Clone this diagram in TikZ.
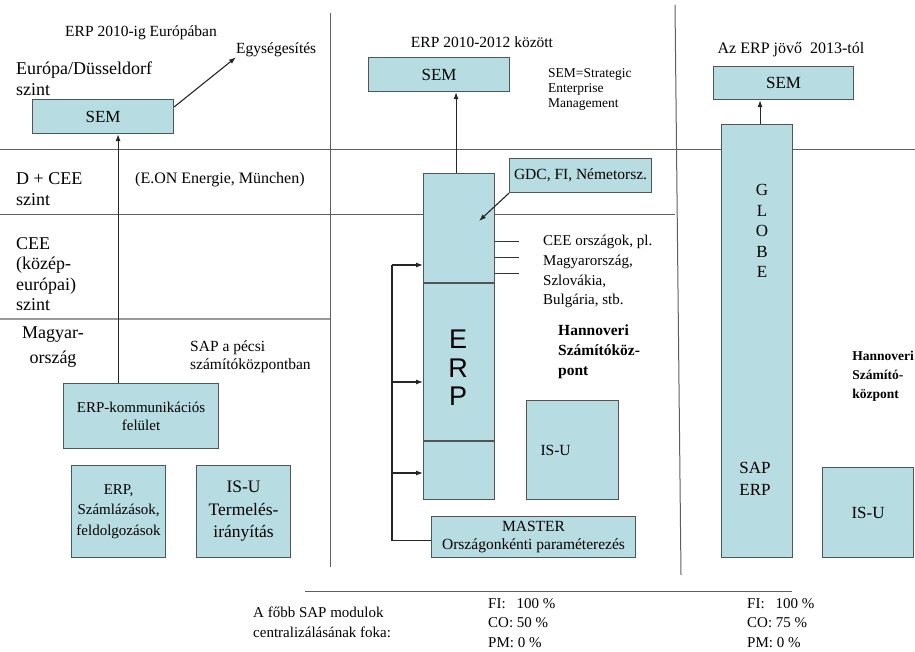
\documentclass[tikz,border=0pt]{standalone}
\usepackage{fontspec}
\setmainfont{Liberation Serif}
\newfontfamily\arialfont{Liberation Sans}
\usetikzlibrary{positioning,arrows.meta}
\definecolor{boxfill}{RGB}{183,221,227}
\definecolor{boxline}{RGB}{80,86,88}
\definecolor{rulegray}{RGB}{95,95,95}

\begin{document}
\begin{tikzpicture}[x=1pt, y=-1pt, >={Latex[length=7pt,width=5pt]},
    box/.style={draw=boxline, fill=boxfill, line width=1.1pt, inner sep=0pt, anchor=north west, align=center},
    level text/.style={font=\fontsize{18}{21}\selectfont, align=left, inner sep=0pt, anchor=north west},
    plain text/.style={font=\fontsize{15.5}{18}\selectfont, inner sep=0pt},
    small text/.style={font=\fontsize{13.5}{15}\selectfont, align=left, inner sep=0pt, anchor=north west},
    bold text/.style={font=\bfseries\fontsize{15.5}{20}\selectfont, align=left, inner sep=0pt},
    sep line/.style={draw=rulegray, line width=1pt},
    arr/.style={->, line width=1.1pt, draw=black!85}]

  \useasboundingbox (0,0) rectangle (915,652);

  % separators
  \draw[sep line] (0,150) -- (915,150);
  \draw[sep line] (0,215) -- (675,215);
  \draw[draw=gray!80, line width=2.5pt] (0,319) -- (330,319);
  \draw[sep line] (330,13) -- (330,567);
  \draw[sep line] (675,5) -- (681,575);
  \draw[sep line] (305,591) -- (792,591);

  % ---- ERP 2010-ig ----
  \node[plain text] (title eu) at (141,33) {ERP 2010-ig Európában};
  \node[plain text, anchor=west] (unify) at (236,50) {Egységesítés};
  \node[level text] (eu level) at (16,62) {Európa/Düsseldorf\\szint};
  \node[box, minimum width=141, minimum height=34, font=\fontsize{17}{20}\selectfont] (sem eu) at (32,99) {SEM};
  \node[level text] (dcee level) at (16,172) {D + CEE\\szint};
  \node[plain text, anchor=west, font=\fontsize{16}{19}\selectfont] (eon) at (135,180) {(E.ON Energie, München)};
  \node[level text, font=\fontsize{18}{20.5}\selectfont] (cee level) at (16,237) {CEE\\(közép-\\európai)\\szint};
  \node[level text, align=center, anchor=north, font=\fontsize{18}{25}\selectfont] (hu level) at (53,327) {Magyar-\\ország};
  \node[plain text, align=left, anchor=north west] (pecs) at (190,341) {SAP a pécsi\\számítóközpontban};
  \node[box, minimum width=155, minimum height=65, font=\fontsize{15}{18}\selectfont] (erp comm) at (63,383) {ERP-kommunikációs\\felület};
  \node[box, minimum width=94, minimum height=92, font=\fontsize{15}{20.5}\selectfont] (billing) at (71,465) {ERP,\\Számlázások,\\feldolgozások};
  \node[box, minimum width=94, minimum height=92, font=\fontsize{17.5}{22.5}\selectfont] (isu eu) at (196,465) {IS-U\\Termelés-\\irányítás};

  \draw[arr] (sem eu.north east) ++(0,8) -- (unify.south west);
  \draw[arr] ([xshift=15pt]sem eu.south |- erp comm.north) -- ([xshift=15pt]sem eu.south);

  % ---- ERP 2010-2012 ----
  \node[plain text] (title mid) at (482,42) {ERP 2010-2012 között};
  \node[box, minimum width=141, minimum height=34, font=\fontsize{17}{20}\selectfont] (sem mid) at (368,57) {SEM};
  \node[small text] (sem def) at (548,68) {SEM=Strategic\\Enterprise\\Management};
  \node[box, minimum width=71, minimum height=326] (erp) at (423,173) {};
  \draw[draw=boxline, line width=1.1pt] (erp.west |- 0,283) -- (erp.east |- 0,283);
  \draw[draw=boxline, line width=1.1pt] (erp.west |- 0,441) -- (erp.east |- 0,441);
  \node[align=center, inner sep=0pt, font=\arialfont\fontsize{27}{28.5}\selectfont] (erp letters) at (458,368) {E\\R\\P};
  \node[box, minimum width=142, minimum height=34, font=\fontsize{15.5}{18}\selectfont] (gdc) at (509,158) {GDC, FI, Németorsz.};
  \coordinate (gdc tip) at (479,221);
  \node[plain text, align=left, anchor=north west, font=\fontsize{15}{19.7}\selectfont] (cee list) at (543,235) {CEE országok, pl.\\Magyarország,\\Szlovákia,\\Bulgária, stb.};
  \node[bold text, anchor=north west] (hannover mid) at (558,325) {Hannoveri\\Számítóköz-\\pont};
  \node[box, minimum width=92, minimum height=99, inner xsep=14pt, text width=64pt, align=left, font=\fontsize{15.5}{18}\selectfont] (isu mid) at (526,400) {IS-U};
  \node[box, minimum width=204, minimum height=41, font=\fontsize{15.5}{17.5}\selectfont] (master) at (431,516) {MASTER\\Országonkénti paraméterezés};

  \draw[arr] ([xshift=-3pt]erp.north) -- ([xshift=-3pt]erp.north |- sem mid.south);
  \draw[arr] (gdc.south west) -- (gdc tip);
  \foreach \yy in {241,257,273}
    \draw[draw=black!80, line width=0.9pt] (erp.east |- 0,\yy) -- ++(24,0);
  \coordinate (bus top) at (392,265);
  \draw[draw=black!85, line width=1.1pt] ([yshift=-3pt]master.west) -| (bus top);
  \foreach \yy in {265,382,473}
    \draw[arr] (bus top |- 0,\yy) -- (erp.west |- 0,\yy);

  % ---- 2013-tol ----
  \node[plain text, font=\fontsize{16}{19}\selectfont] (title fut) at (791,50) {Az ERP jövő\ \ 2013-tól};
  \node[box, minimum width=140, minimum height=33, font=\fontsize{17}{20}\selectfont] (sem fut) at (713,66) {SEM};
  \node[box, minimum width=71, minimum height=433] (globe) at (721,124) {};
  \node[align=center, inner sep=0pt, font=\fontsize{17}{20.5}\selectfont] (globe letters) at (762,231) {G\\L\\O\\B\\E};
  \node[align=center, inner sep=0pt, font=\fontsize{17}{22}\selectfont] (sap erp) at (755,479) {SAP\\ERP};
  \node[box, minimum width=91, minimum height=90, font=\fontsize{17}{20}\selectfont] (isu fut) at (822,467) {IS-U};
  \node[bold text, anchor=north east, font=\bfseries\fontsize{13.5}{19}\selectfont] (hannover fut) at (914,351) {Hannoveri\\Számító-\\központ};

  \draw[arr] ([xshift=3pt]globe.north) -- ([xshift=3pt]globe.north |- sem fut.south);

  % ---- bottom ----
  \node[plain text, align=left, anchor=north west, font=\fontsize{15}{20}\selectfont] (degree) at (253,607) {A főbb SAP modulok\\centralizálásának foka:};
  \node[plain text, align=left, anchor=north west, font=\fontsize{15}{19.5}\selectfont] (share mid) at (488,598) {FI:\hspace{11pt}100 \%\\CO: 50 \%\\PM: 0 \%};
  \node[plain text, align=left, anchor=north west, font=\fontsize{15}{19.5}\selectfont] (share fut) at (747,598) {FI:\hspace{11pt}100 \%\\CO: 75 \%\\PM: 0 \%};

\end{tikzpicture}
\end{document}
